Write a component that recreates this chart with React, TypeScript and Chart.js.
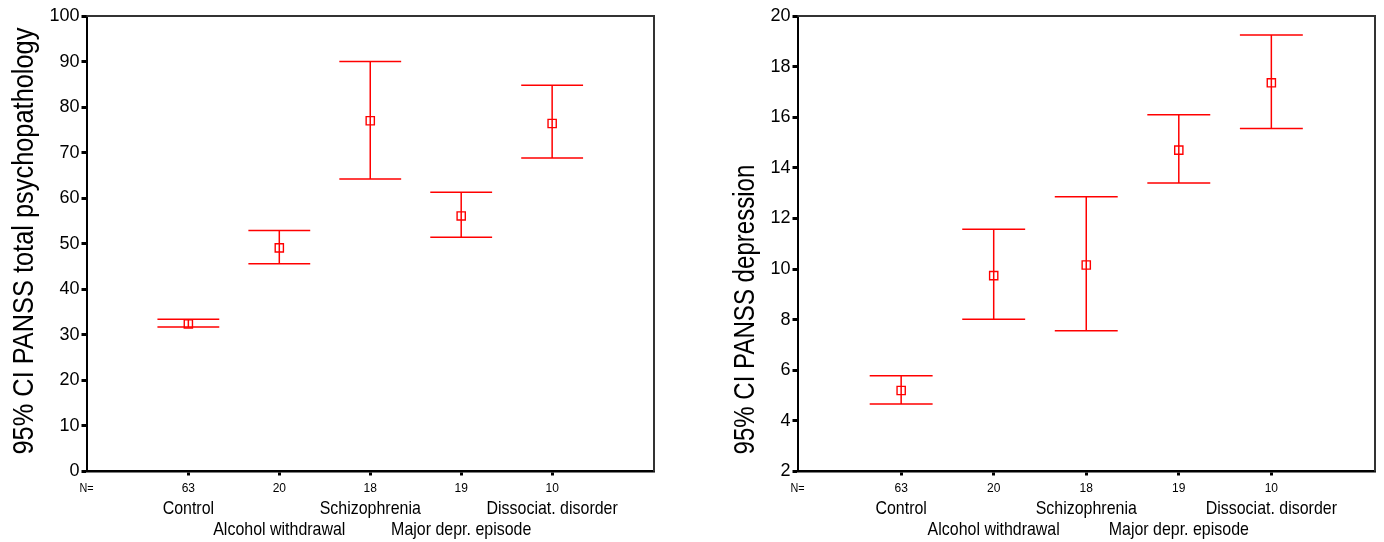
import React, { useEffect, useRef } from 'react';
import { Chart, registerables } from 'chart.js';

Chart.register(...registerables);

// ---------- data ----------
const categories = ['Control', 'Alcohol withdrawal', 'Schizophrenia', 'Major depr. episode', 'Dissociat. disorder'];
const nValues = ['63', '20', '18', '19', '10'];

const totalMean = [32.4, 49.1, 77.0, 56.1, 76.4];
const totalLower = [31.7, 45.6, 64.2, 51.4, 68.8];
const totalUpper = [33.4, 52.9, 90.0, 61.3, 84.8];
const totalTicks = [0, 10, 20, 30, 40, 50, 60, 70, 80, 90, 100];
const totalTitle = '95% CI PANSS total psychopathology';

const depMean = [5.2, 9.74, 10.16, 14.7, 17.36];
const depLower = [4.67, 8.02, 7.56, 13.4, 15.55];
const depUpper = [5.78, 11.57, 12.86, 16.1, 19.25];
const depTicks = [2, 4, 6, 8, 10, 12, 14, 16, 18, 20];
const depTitle = '95% CI PANSS depression';

const FAMILY = "'Liberation Sans', Arial, sans-serif";
const RED = '#ff0000';
const CAP = 0.34; // half cap width in category units

function drawCondensed(ctx: CanvasRenderingContext2D, text: string, x: number, y: number, size: number, sx: number, align: CanvasTextAlign, baseline: CanvasTextBaseline, rotate = 0) {
  ctx.save();
  ctx.translate(x, y);
  if (rotate) ctx.rotate(rotate);
  ctx.scale(sx, 1);
  ctx.font = `${size}px ${FAMILY}`;
  ctx.fillStyle = '#000';
  ctx.textAlign = align;
  ctx.textBaseline = baseline;
  ctx.fillText(text, 0, 0);
  ctx.restore();
}

const errorBarPlugin = {
  id: 'errorBars',
  beforeDatasetsDraw(chart: any, _args: any, opts: any) {
    const { ctx } = chart;
    const xs = chart.scales.x;
    const ys = chart.scales.y;
    ctx.save();
    ctx.strokeStyle = RED;
    ctx.lineWidth = 1.5;
    (opts.lower as number[]).forEach((lo, i) => {
      const px = xs.getPixelForValue(i);
      const hw = xs.getPixelForValue(i + CAP) - px;
      const pl = ys.getPixelForValue(lo);
      const pu = ys.getPixelForValue(opts.upper[i]);
      ctx.beginPath();
      ctx.moveTo(px, pl);
      ctx.lineTo(px, pu);
      ctx.moveTo(px - hw, pu);
      ctx.lineTo(px + hw, pu);
      ctx.moveTo(px - hw, pl);
      ctx.lineTo(px + hw, pl);
      ctx.stroke();
    });
    ctx.restore();
  },
};

const decorPlugin = {
  id: 'decor',
  afterDraw(chart: any, _args: any, opts: any) {
    const { ctx, chartArea } = chart;
    const xs = chart.scales.x;
    const { left, right, top, bottom } = chartArea;
    // top and right frame
    ctx.save();
    ctx.strokeStyle = '#333';
    ctx.lineWidth = 2;
    ctx.beginPath();
    ctx.moveTo(left, top);
    ctx.lineTo(right, top);
    ctx.lineTo(right, bottom);
    ctx.stroke();
    ctx.restore();
    // y title
    drawCondensed(ctx, opts.title, opts.titleX, bottom - 17, 29, opts.titleScale, 'left', 'alphabetic', -Math.PI / 2);
    // N=
    drawCondensed(ctx, 'N=', left, bottom + 17.5, 12, 0.9, 'center', 'middle');
    // category names in two staggered rows
    categories.forEach((name, i) => {
      const px = xs.getPixelForValue(i);
      const py = i % 2 === 0 ? bottom + 37 : bottom + 58;
      drawCondensed(ctx, name, px, py, 19, 0.84, 'center', 'middle');
    });
  },
};

function makeConfig(mean: number[], lower: number[], upper: number[], ticks: number[], title: string, yWidth: number, padRight: number, titleX: number, titleScale: number): any {
  return {
    type: 'scatter',
    data: {
      datasets: [
        {
          data: mean.map((m, i) => ({ x: i, y: m })),
          pointStyle: 'rect',
          pointRadius: 5.8,
          pointBorderWidth: 1.4,
          borderColor: RED,
          backgroundColor: 'rgba(0,0,0,0)',
          showLine: false,
        },
      ],
    },
    options: {
      responsive: false,
      animation: false,
      events: [],
      layout: { padding: { top: 16, right: padRight, bottom: 0, left: 0 } },
      plugins: {
        legend: { display: false },
        tooltip: { enabled: false },
        errorBars: { lower, upper },
        decor: { title, titleX, titleScale },
      },
      scales: {
        x: {
          type: 'linear',
          min: -1.12,
          max: 5.12,
          afterBuildTicks: (s: any) => {
            s.ticks = categories.map((_, i) => ({ value: i }));
          },
          afterFit: (s: any) => {
            s.height = 70.5;
          },
          ticks: {
            callback: (v: number) => nValues[v] ?? '',
            font: { size: 12, family: FAMILY },
            color: '#000',
            padding: 6,
            maxRotation: 0,
            autoSkip: false,
          },
          grid: { drawOnChartArea: false, drawTicks: true, tickLength: 4, tickWidth: 3, tickColor: '#000' },
          border: { display: true, color: '#000', width: 2.5 },
        },
        y: {
          type: 'linear',
          min: ticks[0],
          max: ticks[ticks.length - 1],
          afterBuildTicks: (s: any) => {
            s.ticks = ticks.map((v) => ({ value: v }));
          },
          afterFit: (s: any) => {
            s.width = yWidth;
          },
          ticks: {
            font: { size: 18, family: FAMILY },
            color: '#000',
            padding: 2,
            autoSkip: false,
          },
          grid: { drawOnChartArea: false, drawTicks: true, tickLength: 5, tickWidth: 3, tickColor: '#000' },
          border: { display: true, color: '#000', width: 2 },
        },
      },
    },
    plugins: [errorBarPlugin, decorPlugin],
  };
}

function ChartCanvas({ config, width, height, left }: { config: any; width: number; height: number; left: number }) {
  const ref = useRef<HTMLCanvasElement | null>(null);
  useEffect(() => {
    if (!ref.current) return;
    const chart = new Chart(ref.current, config);
    return () => chart.destroy();
  }, [config]);
  return (
    <canvas
      ref={ref}
      width={width}
      height={height}
      style={{ position: 'absolute', left, top: 0, width, height, display: 'block' }}
    />
  );
}

const leftConfig = makeConfig(totalMean, totalLower, totalUpper, totalTicks, totalTitle, 86.5, 36, 33, 0.875);
const rightConfig = makeConfig(depMean, depLower, depUpper, depTicks, depTitle, 107.5, 9, 63.5, 0.83);

export default function App() {
  return (
    <div style={{ position: 'absolute', left: 0, top: 0, width: 1384, height: 542, background: '#fff' }}>
      <ChartCanvas config={leftConfig} width={690} height={542} left={0} />
      <ChartCanvas config={rightConfig} width={694} height={542} left={690} />
    </div>
  );
}
